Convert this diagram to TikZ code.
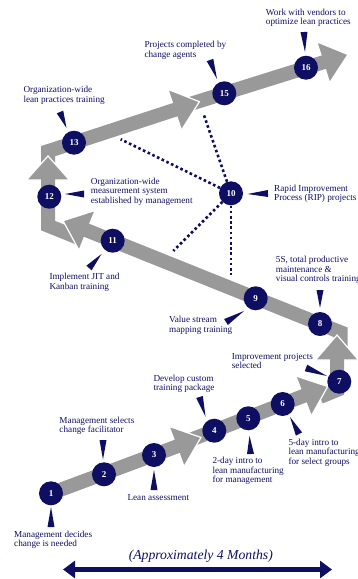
\documentclass[tikz,border=0pt]{standalone}
\usepackage{fontspec}
\setmainfont{Liberation Serif}
\usetikzlibrary{calc,arrows.meta}
\definecolor{navy}{HTML}{0E0E62}
\definecolor{bandgray}{HTML}{999999}
\tikzset{
  band/.style={draw=bandgray, line width=14pt, line join=miter, line cap=butt},
  head/.style={fill=bandgray, draw=white, line width=1.2pt, line join=miter},
  stepdot/.style={circle, fill=navy, minimum size=24pt, inner sep=0pt, text=white,
    font=\fontsize{9}{9}\selectfont\bfseries},
  lbl/.style={anchor=west, align=left, inner sep=0pt, text=navy,
    font=\fontsize{9.2}{9.3}\selectfont},
  link/.style={draw=navy, line width=2.6pt, dash pattern=on 2.6pt off 2.6pt},
}
% thin pointer wedge: tip, then centre of its base
\newcommand\ptr[2]{\fill[navy] #1 -- ($#2!3.5pt!90:#1$) -- ($#2!3.5pt!-90:#1$) -- cycle;}
\begin{document}
\begin{tikzpicture}[x=1pt,y=-1pt]
\useasboundingbox (0,0) rectangle (358,579);

% gray path, drawn from its last stretch back to the first
% stretch 7
\path[head] (348,54.5) -- (329.6,82.8) -- (316.8,41.8) -- cycle;
\draw[band] (185,105.6) -- (325.2,61.7);
% stretch 6
\path[head] (199.4,101.7) -- (181.4,130.2) -- (168,89.4) -- cycle;
\draw[band] (48,172) -- (48,151.2) -- (176.6,109.2);
% stretch 5
\path[head] (48,156) -- (69.5,180) -- (26.5,180) -- cycle;
\draw[band] (82.5,239.5) -- (48,225.6) -- (48,178);
% stretch 4
\path[head] (63,220.7) -- (95.1,210.5) -- (79.1,250.4) -- cycle;
\draw[band] (340.5,352) -- (340.5,332.2) -- (85.2,229.7);
% stretch 3
\path[head] (337,335) -- (358.5,360) -- (315.5,360) -- cycle;
\draw[band] (320,397) -- (337,390) -- (337,358);
% stretch 2
\path[head] (327.7,386.5) -- (311.3,415.9) -- (295.7,375.9) -- cycle;
\draw[band] (190.7,439.8) -- (305.4,395.2);
% stretch 1
\path[head] (201,437.4) -- (184.1,466.6) -- (169.1,426.4) -- cycle;
\draw[band] (51,493.3) -- (178.5,445.8);

% numbered steps
\node[stepdot] (n1)  at (51,493.3)  {1};
\node[stepdot] (n2)  at (104,474.3) {2};
\node[stepdot] (n3)  at (154,455)   {3};
\node[stepdot] (n4)  at (214.3,430.7) {4};
\node[stepdot] (n5)  at (248.3,418.3) {5};
\node[stepdot] (n6)  at (282.7,404) {6};
\node[stepdot] (n7)  at (339.3,381.7) {7};
\node[stepdot] (n8)  at (320,324)   {8};
\node[stepdot] (n9)  at (255.7,298.3) {9};
\node[stepdot] (n10) at (231,193.3) {10};
\node[stepdot] (n11) at (112.7,240.7) {11};
\node[stepdot] (n12) at (49.3,196.7) {12};
\node[stepdot] (n13) at (74,142.7)  {13};
\node[stepdot] (n15) at (224.3,93.3) {15};
\node[stepdot] (n16) at (306,67.7)  {16};

% RIP projects feed the path at several points
\coordinate (d13) at (120.7,139.3);
\coordinate (d15) at (203.3,113.3);
\coordinate (d11) at (173.3,251);
\coordinate (d9)  at (231,275);
\draw[link] (n10) -- (d13);
\draw[link] (n10) -- (d15);
\draw[link] (n10) -- (d11);
\draw[link] (n10) -- (d9);

% pointers from the captions
\ptr{(51,507)}{(51,527)}
\ptr{(103,459.5)}{(103,440)}
\ptr{(154,470)}{(154,490)}
\ptr{(205.5,416.5)}{(199.5,397)}
\ptr{(249.5,436)}{(250.5,454)}
\ptr{(290,417)}{(299,434)}
\ptr{(327,376)}{(306,368)}
\ptr{(320,308)}{(320,290)}
\ptr{(244,311)}{(226,322)}
\ptr{(247.5,194)}{(268,193.5)}
\ptr{(101.5,254)}{(89,268)}
\ptr{(65,194)}{(84,194)}
\ptr{(66.5,128)}{(60,112)}
\ptr{(217,79)}{(210,60)}
\ptr{(305,52)}{(304,32)}

% captions
\node[lbl] (l1)  at (14,539.7)   {Management decides\\change is needed};
\node[lbl] (l2)  at (59.3,425.5) {Management selects\\change facilitator};
\node[lbl] (l3)  at (127.3,497.7) {Lean assessment};
\node[lbl] (l4)  at (153.3,383.7) {Develop custom\\training package};
\node[lbl] (l5)  at (212.3,471)  {2-day intro to\\lean manufacturing\\for management};
\node[lbl] (l6)  at (288.3,452.6) {5-day intro to\\lean manufacturing\\for select groups};
\node[lbl] (l7)  at (231.7,361.2) {Improvement projects\\selected};
\node[lbl] (l8)  at (275.7,270)  {5S, total productive\\maintenance \&\\visual controls training};
\node[lbl] (l9)  at (169,325.4)  {Value stream\\mapping training};
\node[lbl] (l10) at (274,193.7)  {Rapid Improvement\\Process (RIP) projects};
\node[lbl] (l11) at (49.3,282.2) {Implement JIT and\\Kanban training};
\node[lbl] (l12) at (90.7,191.7) {Organization-wide\\measurement system\\established by management};
\node[lbl] (l13) at (23.3,95.4)  {Organization-wide\\lean practices training};
\node[lbl] (l15) at (144.3,50.4) {Projects completed by\\change agents};
\node[lbl] (l16) at (265.7,18)   {Work with vendors to\\optimize lean practices};

% time span
\node[text=navy, inner sep=0pt, font=\fontsize{13.7}{14}\selectfont\itshape] (span) at (200.8,556.7) {(Approximately 4 Months)};
\coordinate (sl) at (63,569.5);
\coordinate (sr) at (332,569.5);
\draw[navy, line width=4.5pt, {Triangle[length=12pt,width=17pt]}-{Triangle[length=12pt,width=17pt]}] (sl) -- (sr);
\end{tikzpicture}
\end{document}
